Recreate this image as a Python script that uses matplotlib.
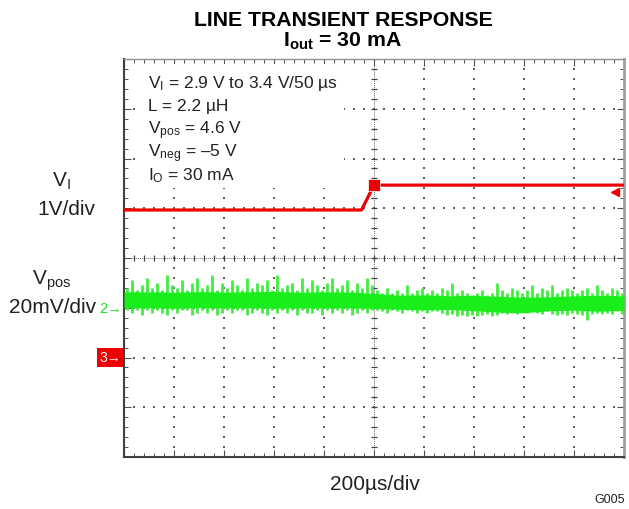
import matplotlib
matplotlib.use("Agg")
import matplotlib.pyplot as plt
from matplotlib.patches import Rectangle
import numpy as np

plt.rcParams["font.family"] = ["Liberation Sans", "DejaVu Sans"]
plt.rcParams["mathtext.fontset"] = "custom"
plt.rcParams["mathtext.rm"] = "Liberation Sans"
plt.rcParams["mathtext.it"] = "Liberation Sans:italic"
plt.rcParams["mathtext.bf"] = "Liberation Sans:bold"

# ---- data (time in us relative to screen centre, 200 us/div) ----
vi_t_us = [-1000, -50, 0, 1000]
vi_v = [2.9, 2.9, 3.4, 3.4]
vi_offset_v = 1.935      # V_I value at screen centre, 1 V/div
vi_trigger_v = 3.26      # trigger level arrow

vpos_ref_div = -1.0      # channel 2 marker, 20 mV/div, values in mV around 4.6 V
vpos_t_us = np.linspace(-990, 990, 100)
vpos_upper_mv = [8, 11, 7, 9, 12, 8, 10, 7, 13, 9, 8, 11, 7, 10, 12, 8, 9, 13, 7, 10,
                 8, 11, 9, 7, 12, 8, 10, 9, 11, 7, 13, 8, 9, 10, 7, 12, 8, 11, 9, 7,
                 10, 12, 8, 9, 11, 7, 10, 8, 12, 9,
                 7, 6, 8, 6, 7, 6, 9, 6, 7, 8, 6, 7, 6, 8, 7, 10, 6, 7, 6, 5,
                 6, 7, 5, 6, 10, 7, 6, 8, 7, 6, 7, 9, 6, 8, 7, 9, 6, 7, 8, 7,
                 6, 7, 8, 6, 9, 7, 6, 8, 7, 6]
vpos_lower_mv = [-1, -2, -1, -3, -1, -2, -1, -2, -3, -1, -2, -1, -1, -3, -2, -1, -2, -1, -3, -2,
                 -1, -2, -1, -1, -3, -2, -1, -2, -3, -1, -2, -1, -2, -1, -3, -1, -2, -2, -1, -3,
                 -1, -2, -1, -2, -1, -3, -2, -1, -2, -1,
                 -1, -1.5, -2, -1, -1.5, -2, -1, -1.5, -2, -1.5, -2, -1.5, -1.5, -2, -3, -2.5, -3.5, -3, -3.5, -3,
                 -3.5, -3, -2.5, -3.5, -3, -2, -2.5, -2, -2.5, -1.5, -2, -1.5, -2, -2.5, -1.5, -2.5, -3, -2.5, -3, -2,
                 -2.5, -3, -5, -2.5, -2, -2.5, -2, -2.5, -1.5, -2.5]
core_t_us = np.linspace(-1000, 1000, 21)
core_hi_mv = [6.4, 6.4, 6.2, 6.5, 6.3, 6.4, 6.6, 6.2, 6.4, 6.3, 5.8, 5.0, 5.2, 4.8, 5.0, 4.6, 4.2, 4.4, 4.8, 5.0, 4.8]
core_lo_mv = [0.0, 0.0, -0.2, 0.1, -0.1, 0.0, -0.2, 0.0, -0.1, 0.0, -0.3, -0.6, -0.8, -0.7, -1.2, -1.8, -2.0, -1.2, -1.0, -1.4, -1.0]

ch3_ref_div = -2.0

info_lines = [r"V$_\mathregular{I}$ = 2.9 V to 3.4 V/50 µs",
              "L = 2.2 µH",
              r"V$_\mathregular{pos}$ = 4.6 V",
              r"V$_\mathregular{neg}$ = –5 V",
              r"I$_\mathregular{O}$ = 30 mA"]
info_baselines_px = [88, 111, 134, 157, 180]

W, H = 629, 510


def fx(px):
    return px / W


def fy(py):
    return 1 - py / H


fig = plt.figure(figsize=(W / 100, H / 100), dpi=100)
ax = fig.add_axes([124 / W, (H - 458) / H, 500 / W, 398 / H])
ax.set_xlim(-1000, 1000)
ax.set_ylim(-4, 4)

# background dot mesh (stays visible behind the text panel)
tb, yb = np.meshgrid(np.linspace(-1000, 1000, 101), np.linspace(-4, 4, 81))
ax.scatter(tb.ravel(), yb.ravel(), s=0.5, c="#d4d4d4", marker="s", linewidths=0, zorder=2.5)

# major division dotted lines
minor_y = np.linspace(-4, 4, 41)
minor_t = np.linspace(-1000, 1000, 51)
for t in range(-800, 1000, 200):
    if t == 0:
        continue
    ax.scatter(np.full_like(minor_y, t), minor_y, s=1.6, c="#606060", marker="s", linewidths=0, zorder=1)
for y in range(-3, 4):
    if y == 0:
        continue
    ax.scatter(minor_t, np.full_like(minor_t, y), s=1.6, c="#606060", marker="s", linewidths=0, zorder=1)

# centre crosshair with ticks
ax.axvline(0, color="#707070", lw=0.7, ls=(0, (1, 1)), zorder=1)
ax.axhline(0, color="#707070", lw=0.7, ls=(0, (1, 1)), zorder=1)
ax.scatter(np.zeros_like(minor_y), minor_y, s=16, c="#404040", marker="_", linewidths=0.9, zorder=1)
ax.scatter(minor_t, np.zeros_like(minor_t), s=16, c="#404040", marker="|", linewidths=0.9, zorder=1)

# white panel behind the settings text
ax.add_patch(Rectangle((-950, 1.4), 830, 2.5, fc="white", ec="none", zorder=2))

# frame ticks
ax.set_xticks(np.arange(-1000, 1001, 200))
ax.set_yticks(np.arange(-4, 5, 1))
ax.set_xticks(minor_t, minor=True)
ax.set_yticks(minor_y, minor=True)
ax.tick_params(which="both", direction="in", top=True, right=True,
               labelbottom=False, labelleft=False, color="#505050")
ax.tick_params(which="major", length=5, width=0.8)
ax.tick_params(which="minor", length=3, width=0.7)
for side in ["left", "bottom"]:
    ax.spines[side].set_color("#404040")
    ax.spines[side].set_linewidth(1.5)
ax.spines["top"].set_color("#909090")
ax.spines["top"].set_linewidth(1.0)
ax.spines["right"].set_color("#a0a0a0")
ax.spines["right"].set_linewidth(2.0)

# V_pos trace (channel 2)
up = vpos_ref_div + np.array(vpos_upper_mv) / 20
lo = vpos_ref_div + np.array(vpos_lower_mv) / 20
ax.vlines(vpos_t_us, lo, up, color="#3cf03c", lw=2.0, zorder=3)
ax.fill_between(core_t_us, vpos_ref_div + np.array(core_lo_mv) / 20,
                vpos_ref_div + np.array(core_hi_mv) / 20, color="#1aee1a", lw=0, zorder=4)

# V_I trace (channel 1)
vi_div = np.array(vi_v) - vi_offset_v
ax.plot(vi_t_us, vi_div, color="#ee0000", lw=2.3, zorder=5, solid_capstyle="butt")
ax.plot([0], [vi_div[2]], marker="s", ms=8.5, color="#ee0000", mec="white", mew=0.5, zorder=6)
ax.plot([965], [vi_trigger_v - vi_offset_v], marker="<", ms=6, color="#ee0000", zorder=6, clip_on=False)

# channel markers on left edge
ytr = ax.get_yaxis_transform()
ax.text(-0.004, vpos_ref_div, "2→", transform=ytr, ha="right", va="center",
        color="#22dd22", fontsize=10.5, clip_on=False)
ax.text(-0.006, ch3_ref_div, "3→", transform=ytr, ha="right", va="center",
        color="white", fontsize=10, clip_on=False,
        bbox=dict(boxstyle="square,pad=0.15", fc="#ee0000", ec="none"))

# info text
for line, base in zip(info_lines, info_baselines_px):
    fig.text(fx(148), fy(base), line, ha="left", va="baseline", fontsize=12.5,
             color="#222222", zorder=5)

# titles and labels
fig.text(fx(343), fy(26), "LINE TRANSIENT RESPONSE", ha="center", va="baseline",
         fontsize=15.3, fontweight="bold")
fig.text(fx(343), fy(47), r"I$_\mathbf{out}$ = 30 mA", ha="center", va="baseline",
         fontsize=15.3, fontweight="bold")
fig.text(fx(61), fy(187), r"V$_\mathregular{I}$", ha="center", va="baseline", fontsize=15, color="#222222")
fig.text(fx(66), fy(215), "1V/div", ha="center", va="baseline", fontsize=15, color="#222222")
fig.text(fx(52), fy(285), r"V$_\mathregular{pos}$", ha="center", va="baseline", fontsize=15, color="#222222")
fig.text(fx(96), fy(313), "20mV/div", ha="right", va="baseline", fontsize=15, color="#222222")
fig.text(fx(375), fy(490), "200µs/div", ha="center", va="baseline", fontsize=15, color="#222222")
fig.text(fx(625), fy(503), "G005", ha="right", va="baseline", fontsize=9, color="#222222")

fig.savefig("out.png", dpi=100)
